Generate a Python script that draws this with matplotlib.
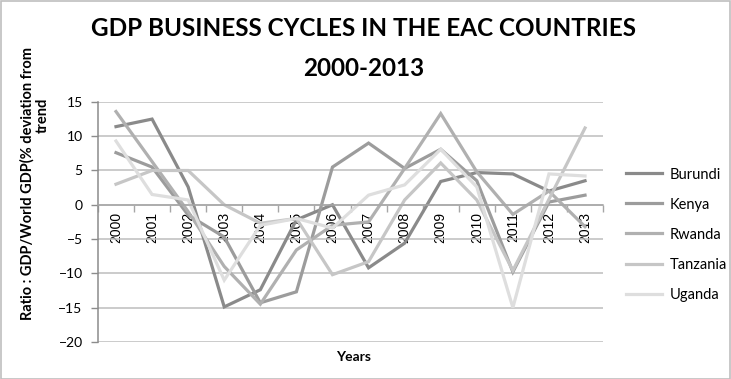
import numpy as np
import matplotlib
matplotlib.use("Agg")
import matplotlib.pyplot as plt
from matplotlib.patches import Rectangle

years = [str(y) for y in range(2000, 2014)]

burundi = [11.4, 12.5, 2.6, -14.9, -12.4, -2.2, 0.0, -9.2, -5.6, 3.4, 4.7, 4.5, 2.0, 3.5]
kenya = [7.6, 5.5, -1.5, -4.7, -14.3, -12.7, 5.5, 9.0, 5.3, 8.1, 3.5, -9.8, 0.4, 1.4]
rwanda = [13.6, 6.3, -1.0, -9.0, -14.5, -6.6, -3.0, -2.5, 5.3, 13.3, 4.8, -1.4, 2.0, -3.2]
tanzania = [3.0, 5.0, 5.0, 0.0, -2.7, -2.0, -10.2, -8.3, 0.7, 6.1, 0.7, -9.6, 0.8, 11.2]
uganda = [9.3, 1.5, 0.7, -11.0, -3.0, -2.0, -3.4, 1.4, 2.9, 8.1, 2.6, -15.0, 4.5, 4.2]

series = [("Burundi", burundi, "#8a8a8a"),
          ("Kenya", kenya, "#9c9c9c"),
          ("Rwanda", rwanda, "#b0b0b0"),
          ("Tanzania", tanzania, "#c6c6c6"),
          ("Uganda", uganda, "#dedede")]

fig = plt.figure(figsize=(7.31, 3.79), dpi=100)
ax = fig.add_axes([0.134, 0.098, 0.691, 0.633])

x = np.arange(len(years))
for name, vals, col in series:
    ax.plot(x, vals, color=col, lw=2.3, label=name, solid_joinstyle="miter")

ax.set_xlim(-0.5, len(years) - 0.5)
ax.set_ylim(-20, 15)
ax.set_yticks(np.arange(-20, 16, 5))
ax.grid(axis="y", color="#bdbdbd", lw=1.1)
ax.set_axisbelow(True)

# category axis sits on the zero line
for s in ["top", "right"]:
    ax.spines[s].set_visible(False)
ax.spines["bottom"].set_position(("data", 0))
ax.spines["bottom"].set_color("#a6a6a6")
ax.spines["bottom"].set_linewidth(1.1)
ax.spines["left"].set_color("#8c8c8c")
ax.spines["left"].set_linewidth(1.1)

ax.set_xticks(x)
ax.set_xticklabels(years, rotation=90, fontsize=10, family="Liberation Sans")
ax.set_xticks(np.arange(-0.5, len(years)), minor=True)
ax.tick_params(axis="x", which="major", length=0, pad=5)
ax.tick_params(axis="x", which="minor", length=5, color="#a6a6a6", width=1)
ax.tick_params(axis="y", length=5, color="#8c8c8c", width=1, pad=6)
for lab in ax.get_yticklabels():
    lab.set_family("Lato")
    lab.set_fontsize(10)

fig.text(0.497, 0.925, "GDP BUSINESS CYCLES IN THE EAC COUNTRIES", ha="center", va="center",
         fontsize=17.5, fontweight="bold", family="Lato")
fig.text(0.497, 0.82, "2000-2013", ha="center", va="center",
         fontsize=17.5, fontweight="bold", family="Lato")

fig.text(0.037, 0.515, "Ratio : GDP/World GDP(% deviation from", rotation=90, ha="center",
         va="center", fontsize=10.5, fontweight="bold", family="Lato")
fig.text(0.059, 0.695, "trend", rotation=90, ha="center", va="center",
         fontsize=10.5, fontweight="bold", family="Lato")
fig.text(0.483, 0.058, "Years", ha="center", va="center",
         fontsize=10, fontweight="bold", family="Lato")

leg = fig.legend(loc="center left", bbox_to_anchor=(0.848, 0.381), frameon=False,
                 prop={"family": "Lato", "size": 10.5}, handlelength=2.5,
                 handletextpad=0.5, labelspacing=1.1, borderaxespad=0)

fig.patches.append(Rectangle((0.001, 0.001), 0.997, 0.997, transform=fig.transFigure,
                             fill=False, edgecolor="#bfbfbf", lw=1.2))

fig.savefig("out.png", dpi=100)
